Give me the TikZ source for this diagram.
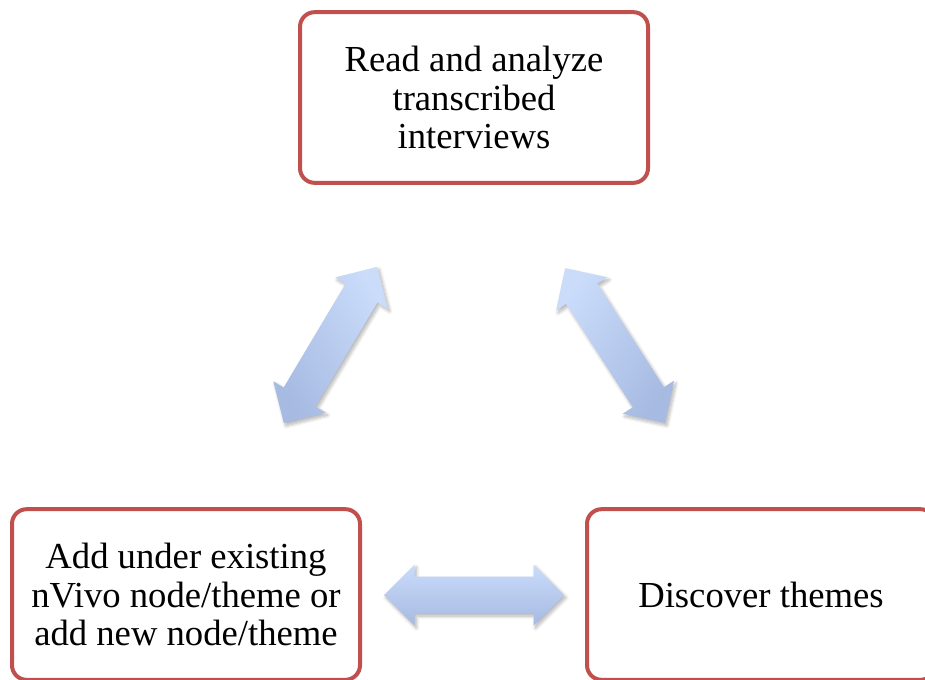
\documentclass[tikz,border=0pt]{standalone}
\usepackage{fontspec}
\setmainfont{Liberation Serif}
\usetikzlibrary{shapes.arrows,shadows.blur}

\definecolor{boxred}{RGB}{192,80,77}
\definecolor{arrtop}{RGB}{202,220,250}
\definecolor{arrbot}{RGB}{166,186,226}

\tikzset{every picture/.style={line width=0.75pt},
  stepbox/.style={draw=boxred, line width=3pt, rounded corners=11pt, fill=white,
    minimum width=261pt, minimum height=128pt, align=center, inner sep=0pt,
    font=\fontsize{27.5}{29}\selectfont},
  twoway/.style={double arrow, double arrow head extend=9pt, inner xsep=0pt,
    inner ysep=13.5pt, draw=none, top color=arrtop, bottom color=arrbot,
    blur shadow={shadow blur steps=8, shadow xshift=1.5pt, shadow yshift=-2pt,
      shadow blur radius=2.5pt, shadow opacity=30}}
}

\begin{document}
\begin{tikzpicture}[x=0.75pt,y=0.75pt,yscale=-1,xscale=1]
\useasboundingbox (0,0) rectangle (925,679);

% Text Node
\node [stepbox] (readbox) at (474,97.5) {Read and analyze\\transcribed\\interviews};
% Text Node
\node [stepbox] (addbox) at (186,594.5) {Add under existing\\nVivo node/theme or\\add new node/theme};
% Text Node
\node [stepbox] (themesbox) at (761,594.5) {Discover themes};

%Double Arrow
\node [twoway, minimum height=136.5pt, rotate=59.2, shading angle=-59.2] (arrowL) at (330.5,345) {};
%Double Arrow
\node [twoway, minimum height=138pt, rotate=-57.2, shading angle=57.2] (arrowR) at (615,345.5) {};
%Double Arrow
\node [twoway, minimum height=135pt] (arrowB) at (474,595) {};

\end{tikzpicture}
\end{document}
